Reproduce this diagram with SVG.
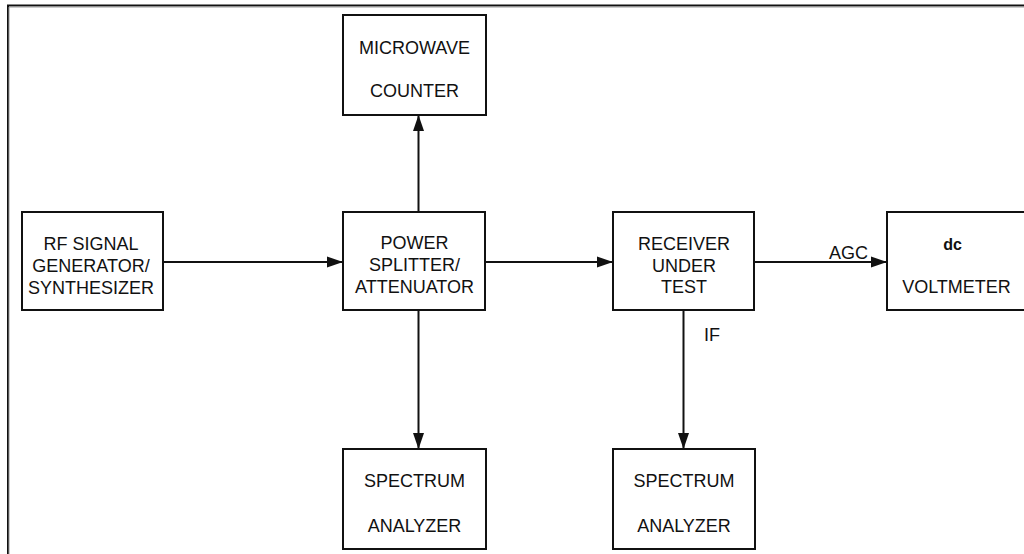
<svg xmlns="http://www.w3.org/2000/svg" width="1024" height="554" viewBox="0 0 1024 554">
<style>
.box{fill:#fff;stroke:#111;stroke-width:2}
.t{font-family:"Liberation Sans",Arial,sans-serif;font-size:18px;fill:#111;text-anchor:middle}
.lbl{font-family:"Liberation Sans",Arial,sans-serif;font-size:18px;fill:#111}
.c{stroke:#111;stroke-width:2;fill:none;marker-end:url(#ah)}
</style>
<defs>
<marker id="ah" markerUnits="userSpaceOnUse" markerWidth="17" markerHeight="12" refX="16" refY="6" orient="auto">
<path d="M0,0.5 L16,6 L0,11.5 Z" fill="#111"/>
</marker>
</defs>
<rect width="1024" height="554" fill="#fff"/>
<g id="frame">
<path d="M8,554 V5.5 H1024" fill="none" stroke="#111" stroke-width="2"/>
<path d="M9,554 V7 H1024" fill="none" stroke="#999" stroke-width="1"/>
</g>
<g id="connectors">
<line class="c" x1="163" y1="262" x2="343" y2="262"/>
<line class="c" x1="485" y1="262" x2="613" y2="262"/>
<line class="c" x1="754" y1="262" x2="887" y2="262"/>
<line class="c" x1="418.5" y1="212" x2="418.5" y2="115"/>
<line class="c" x1="418.5" y1="310" x2="418.5" y2="449"/>
<line class="c" x1="683.5" y1="310" x2="683.5" y2="449"/>
<text class="lbl" x="829" y="259">AGC</text>
<text class="lbl" x="704" y="341">IF</text>
</g>
<g id="rf">
<rect class="box" x="22" y="212" width="141" height="98"/>
<text class="t" x="91" y="250">RF SIGNAL</text>
<text class="t" x="91" y="272">GENERATOR/</text>
<text class="t" x="91" y="294">SYNTHESIZER</text>
</g>
<g id="splitter">
<rect class="box" x="343" y="212" width="142" height="98"/>
<text class="t" x="414.5" y="249">POWER</text>
<text class="t" x="414.5" y="271">SPLITTER/</text>
<text class="t" x="414.5" y="293">ATTENUATOR</text>
</g>
<g id="receiver">
<rect class="box" x="613" y="212" width="141" height="98"/>
<text class="t" x="684" y="250">RECEIVER</text>
<text class="t" x="684" y="272">UNDER</text>
<text class="t" x="684" y="293">TEST</text>
</g>
<g id="voltmeter">
<rect class="box" x="887" y="212" width="150" height="98"/>
<text class="t" x="952.5" y="250" style="font-size:16px;font-weight:bold">dc</text>
<text class="t" x="956.5" y="293">VOLTMETER</text>
</g>
<g id="counter">
<rect class="box" x="343" y="15" width="143" height="100"/>
<text class="t" x="414.5" y="54">MICROWAVE</text>
<text class="t" x="414.5" y="97">COUNTER</text>
</g>
<g id="spectrum1">
<rect class="box" x="343" y="449" width="143" height="100"/>
<text class="t" x="414.5" y="487">SPECTRUM</text>
<text class="t" x="414.5" y="532">ANALYZER</text>
</g>
<g id="spectrum2">
<rect class="box" x="613" y="449" width="142" height="100"/>
<text class="t" x="684" y="487">SPECTRUM</text>
<text class="t" x="684" y="532">ANALYZER</text>
</g>
</svg>
